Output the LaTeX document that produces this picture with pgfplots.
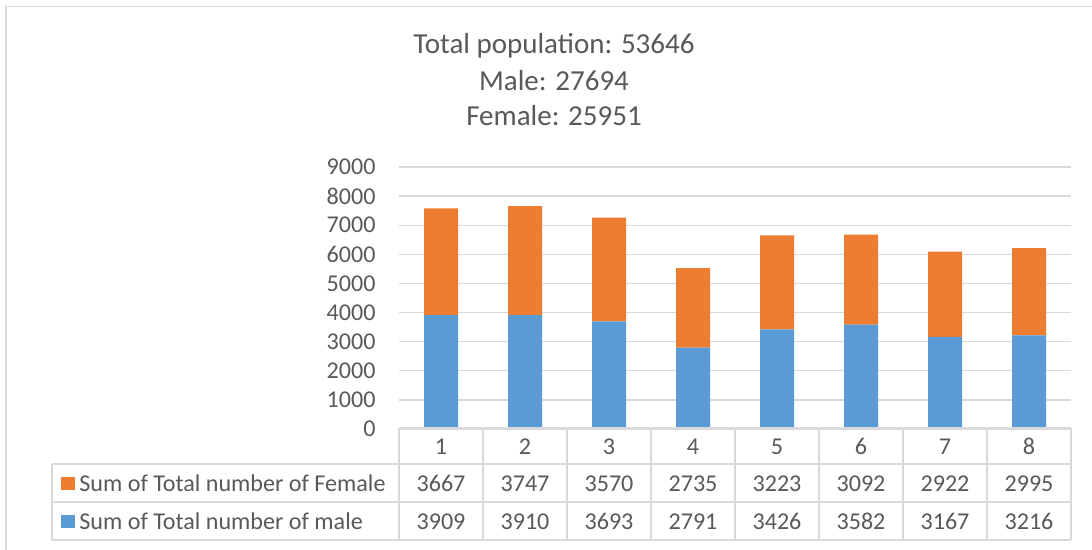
\documentclass[border=0pt]{standalone}
\usepackage{pgfplots}
\pgfplotsset{compat=1.18}
\usepackage{fontspec}
\setmainfont{Carlito}
\definecolor{orangeS}{HTML}{ED7D31}
\definecolor{blueS}{HTML}{5B9BD5}
\definecolor{txt}{HTML}{595959}
\definecolor{gridc}{HTML}{D9D9D9}
\newcommand\bodyfont{\fontsize{12.05}{14}\selectfont}
\newcommand\titlefont{\fontsize{14.5}{17}\selectfont}
\begin{document}
\begin{tikzpicture}
\begin{scope}[x=0.5pt,y=-0.5pt]
\useasboundingbox (0,0) rectangle (1092,550);
\fill[white] (0,0) rectangle (1092,550);
% chart border
\draw[gridc, line width=0.8pt] (6,600) -- (6,6.5) -- (1120,6.5);
% title
\node[anchor=base, text=txt, font=\titlefont] at (554,54) {Total population: 53646};
\node[anchor=base, text=txt, font=\titlefont] at (554,91) {Male: 27694};
\node[anchor=base, text=txt, font=\titlefont] at (554,126) {Female: 25951};
\end{scope}
\begin{axis}[
  at={(199.5pt,-214.5pt)}, anchor=south west,
  scale only axis, width=336pt, height=131pt,
  xmin=0.5, xmax=8.5, ymin=0, ymax=9000,
  ybar stacked, bar width=17pt,
  axis line style={draw=none},
  tick style={draw=none},
  ytick={0,1000,...,9000},
  ymajorgrids, grid style={color=gridc, line width=0.65pt},
  xtick={1,2,3,4,5,6,7,8},
  xticklabels={1,2,3,4,5,6,7,8},
  ticklabel style={font=\bodyfont, text=txt},
  /pgf/number format/assume math mode=true,
  /pgf/number format/1000 sep={},
  scaled y ticks=false,
  yticklabel style={anchor=east, inner sep=0pt, xshift=-11.5pt},
  xticklabel style={anchor=center, inner sep=0pt},
  xticklabel shift=8.75pt,
]
\addplot[fill=blueS, draw=none] coordinates {(1,3909) (2,3910) (3,3693) (4,2791) (5,3426) (6,3582) (7,3167) (8,3216)};
\addplot[fill=orangeS, draw=none] coordinates {(1,3667) (2,3747) (3,3570) (4,2735) (5,3223) (6,3092) (7,2922) (8,2995)};
\end{axis}
\begin{scope}[x=0.5pt,y=-0.5pt]
% data table lines
\draw[gridc, line width=0.8pt] (399,428) -- (1071,428);
\draw[gridc, line width=0.8pt] (52,464) -- (1071,464);
\draw[gridc, line width=0.8pt] (52,502) -- (1071,502);
\draw[gridc, line width=0.8pt] (52,540) -- (1071,540);
\draw[gridc, line width=0.8pt] (52,464) -- (52,540);
\foreach \k in {0,...,8} {\draw[gridc, line width=0.8pt] (399+84*\k,428) -- (399+84*\k,540);}
% legend keys
\fill[orangeS] (61,476.5) rectangle (75,490);
\fill[blueS] (61,514.5) rectangle (75,528);
\node[anchor=west, inner sep=0pt, text=txt, font=\bodyfont] at (79,483.5) {Sum of Total number of Female};
\node[anchor=west, inner sep=0pt, text=txt, font=\bodyfont] at (79,521.5) {Sum of Total number of male};
% table values
\foreach \v [count=\i from 0] in {3667,3747,3570,2735,3223,3092,2922,2995}
  {\node[text=txt, inner sep=0pt, font=\bodyfont] at (441+84*\i,483.5) {\v};}
\foreach \v [count=\i from 0] in {3909,3910,3693,2791,3426,3582,3167,3216}
  {\node[text=txt, inner sep=0pt, font=\bodyfont] at (441+84*\i,521.5) {\v};}
\end{scope}
\end{tikzpicture}
\end{document}
